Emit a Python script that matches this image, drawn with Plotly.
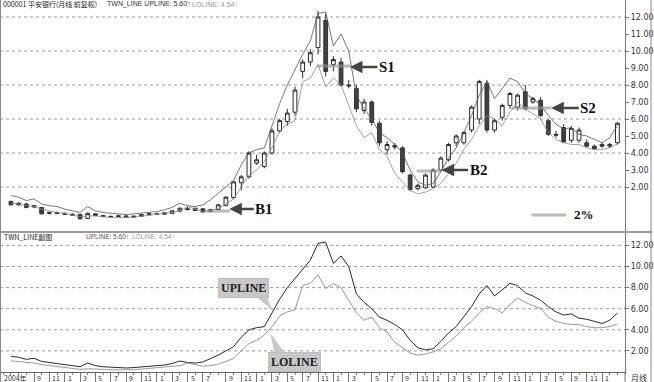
import plotly.graph_objects as go

W, H = 654, 382

# ---------------- data (monthly) ----------------
months = list(range(80))
opens = [1.15, 0.95, 1.0, 0.82, 0.8, 0.45, 0.5, 0.45, 0.4, 0.38,
         0.15, 0.42, 0.32, 0.26, 0.27, 0.3, 0.24, 0.28, 0.37, 0.42,
         0.4, 0.45, 0.58, 0.72, 0.62, 0.72, 0.55, 0.68, 0.92, 1.38,
         2.25, 2.6, 3.4, 3.2, 4.0, 5.3, 5.85, 6.4, 8.8, 9.35,
         10.2, 11.8, 9.2, 9.35, 8.0, 7.8, 6.5, 7.0, 5.75, 4.2,
         4.45, 4.3, 2.7, 1.9, 1.95, 2.0, 3.0, 3.6, 4.6, 4.6,
         5.35, 6.0, 8.1, 5.35, 6.1, 6.8, 6.7, 7.6, 7.0, 7.1,
         5.9, 5.1, 5.5, 4.75, 4.75, 4.6, 4.4, 4.5, 4.4, 4.6]
highs = [1.2, 1.1, 1.05, 0.95, 0.82, 0.55, 0.55, 0.5, 0.45, 0.42,
         0.5, 0.45, 0.35, 0.3, 0.32, 0.32, 0.3, 0.4, 0.45, 0.48,
         0.5, 0.62, 0.8, 0.85, 0.78, 0.75, 0.72, 0.98, 1.45, 2.35,
         2.7, 4.1, 3.9, 4.1, 5.45, 6.0, 6.6, 7.9, 9.5, 10.1,
         12.35, 12.2, 9.7, 9.6, 8.3, 8.0, 7.2, 7.1, 5.9, 4.7,
         4.6, 4.4, 2.8, 2.2, 2.8, 3.1, 3.8, 4.6, 5.1, 5.3,
         6.8, 8.3, 8.3, 6.0, 6.9, 7.6, 7.5, 8.0, 7.3, 7.3,
         6.0, 5.3, 5.7, 5.6, 5.5, 4.8, 4.5, 4.6, 4.6, 5.8]
lows = [0.92, 0.9, 0.75, 0.78, 0.38, 0.38, 0.4, 0.35, 0.3, 0.1,
        0.12, 0.28, 0.24, 0.2, 0.22, 0.22, 0.2, 0.26, 0.33, 0.36,
        0.38, 0.42, 0.52, 0.62, 0.58, 0.5, 0.52, 0.64, 0.85, 1.3,
        1.8, 2.5, 3.3, 3.1, 3.9, 5.2, 5.6, 6.2, 8.4, 9.1,
        9.8, 8.5, 8.8, 7.9, 7.8, 6.4, 6.3, 5.6, 4.4, 3.9,
        4.2, 2.8, 1.75, 1.8, 1.9, 1.95, 2.9, 3.5, 4.4, 4.5,
        5.2, 5.7, 5.2, 5.2, 5.9, 6.6, 6.5, 6.5, 6.9, 6.1,
        5.0, 4.9, 4.6, 4.6, 4.6, 4.35, 4.2, 4.3, 4.3, 4.5]
closes = [0.95, 1.05, 0.8, 0.9, 0.42, 0.5, 0.45, 0.4, 0.35, 0.13,
          0.45, 0.32, 0.26, 0.27, 0.3, 0.24, 0.28, 0.37, 0.42, 0.4,
          0.48, 0.6, 0.75, 0.68, 0.75, 0.53, 0.68, 0.95, 1.4, 2.3,
          2.6, 4.0, 3.6, 4.0, 5.3, 5.9, 6.35, 7.7, 9.35, 9.9,
          12.0, 8.8, 9.5, 8.0, 7.95, 6.6, 7.0, 5.8, 4.6, 4.5,
          4.35, 2.9, 1.85, 2.1, 2.7, 3.0, 3.7, 4.5, 5.0, 5.2,
          6.7, 8.2, 5.35, 5.9, 6.8, 7.5, 7.4, 6.6, 7.2, 6.2,
          5.1, 5.05, 4.65, 5.45, 5.35, 4.4, 4.25, 4.4, 4.5, 5.75]
upline = [1.5, 1.4, 1.2, 1.3, 1.0, 0.9, 0.85, 0.7, 0.6, 0.5,
          0.85, 0.6, 0.5, 0.45, 0.4, 0.38, 0.42, 0.47, 0.5, 0.55,
          0.66, 0.8, 1.04, 0.9, 0.85, 0.95, 1.25, 1.6, 2.0, 2.4,
          3.3, 4.0, 4.2, 4.3, 5.6, 6.9, 8.0, 8.9, 9.8, 10.6,
          12.2, 12.3, 10.3, 11.0, 10.0, 7.4, 6.6, 6.0, 5.2, 4.9,
          4.5, 4.0, 3.0, 2.3, 2.1, 2.2, 2.9, 3.7, 4.3, 5.2,
          6.2, 7.4, 8.2, 7.2, 7.8, 8.4, 8.2, 7.5, 7.2, 6.8,
          6.2, 5.7, 5.4, 5.5, 5.1, 5.0, 4.8, 4.6, 4.9, 5.6]
loline = [1.05, 1.0, 0.9, 0.85, 0.7, 0.6, 0.5, 0.45, 0.35, 0.25,
          0.3, 0.3, 0.25, 0.2, 0.2, 0.2, 0.22, 0.28, 0.35, 0.4,
          0.45, 0.5, 0.6, 0.85, 0.7, 0.55, 0.6, 0.75, 1.0, 1.3,
          2.0, 2.7, 3.0, 3.5, 4.3, 5.3, 5.7, 5.9, 8.2, 8.4,
          9.2, 7.9, 8.4, 8.0, 6.8, 5.6, 4.9, 5.2, 4.2, 3.8,
          2.8, 2.3, 1.8, 1.6, 1.7, 1.9, 2.2, 2.8, 3.4, 4.2,
          4.8, 5.6, 6.2, 6.0, 5.6, 6.4, 7.0, 6.6, 6.3, 6.0,
          5.2, 4.8, 4.6, 4.5, 4.5, 4.3, 4.2, 4.2, 4.3, 4.54]
tick_pos = [0, 3, 5, 7, 9, 11, 13, 15, 17, 19, 21, 23, 25, 28, 30, 32, 34, 36, 38,
            40, 42, 44, 47, 49, 51, 53, 55, 57, 59, 61, 63, 65, 67, 69, 71, 73, 75, 77]
tick_txt = ["2004年", "9", "11", "1", "3", "5", "7", "9", "11", "1", "3", "5", "7", "9", "11",
            "1", "3", "5", "7", "11", "1", "3", "5", "7", "9", "11", "1", "3", "5", "7",
            "9", "11", "1", "3", "5", "9", "11", "1"]
price_ticks = [2, 3, 4, 5, 6, 7, 8, 9, 10, 11, 12]
sub_ticks = [2, 4, 6, 8, 10, 12]
grid_vals = [2, 4, 6, 8, 10, 12]

# ---------------- geometry helpers (pixel -> paper) ----------------
def fx(x):
    return x / W

def fy(y):
    return 1 - y / H

PLOT_R = 627
X0, DX = 11, 7.7
TOP_Y0, TOP_Y1 = 0, 231        # pixel rows of top panel
TOP_ZERO, TOP_K = 221, 17.0    # y = 221 - 17 v
BOT_Y0, BOT_Y1 = 233, 372
BOT_ZERO, BOT_K = 372, 10.55

xrange_ = [(0 - X0) / DX, (PLOT_R - X0) / DX]

fig = go.Figure()
fig.add_trace(go.Candlestick(
    x=months, open=opens, high=highs, low=lows, close=closes,
    xaxis="x", yaxis="y", whiskerwidth=0,
    increasing=dict(line=dict(color="#2a2a2a", width=1), fillcolor="#ffffff"),
    decreasing=dict(line=dict(color="#333333", width=1), fillcolor="#404040"),
    showlegend=False, hoverinfo="skip"))
fig.add_trace(go.Scatter(x=months, y=upline, mode="lines", xaxis="x", yaxis="y",
                         line=dict(color="#555555", width=0.8), showlegend=False, hoverinfo="skip"))
fig.add_trace(go.Scatter(x=months, y=loline, mode="lines", xaxis="x", yaxis="y",
                         line=dict(color="#8a8a8a", width=0.8), showlegend=False, hoverinfo="skip"))
fig.add_trace(go.Scatter(x=months, y=upline, mode="lines", xaxis="x2", yaxis="y2",
                         line=dict(color="#2a2a2a", width=1), showlegend=False, hoverinfo="skip"))
fig.add_trace(go.Scatter(x=months, y=loline, mode="lines", xaxis="x2", yaxis="y2",
                         line=dict(color="#9a9a9a", width=1), showlegend=False, hoverinfo="skip"))

tickfont = dict(family="DejaVu Sans", size=8, color="#333333")
fig.update_layout(
    width=W, height=H, margin=dict(l=0, r=0, t=0, b=0),
    paper_bgcolor="white", plot_bgcolor="white", showlegend=False,
    xaxis=dict(domain=[0, fx(PLOT_R)], range=xrange_, anchor="y",
               showticklabels=False, showgrid=False, zeroline=False, ticks="",
               rangeslider=dict(visible=False)),
    xaxis2=dict(domain=[0, fx(PLOT_R)], range=xrange_, anchor="y2", matches="x",
                showticklabels=False, showgrid=False, zeroline=False,
                tickmode="array", tickvals=tick_pos[1:], ticks="outside", ticklen=10,
                tickcolor="#777777", tickwidth=1,
                minor=dict(ticks="outside", ticklen=2, dtick=1, tickcolor="#888888"),
                showline=True, linecolor="#666666", linewidth=1),
    yaxis=dict(domain=[fy(TOP_Y1), fy(TOP_Y0)],
               range=[(TOP_ZERO - TOP_Y1) / TOP_K, (TOP_ZERO - TOP_Y0) / TOP_K],
               side="right", anchor="x", tickmode="array", tickvals=price_ticks,
               ticktext=[f"{v:.2f}" for v in price_ticks], tickfont=tickfont,
               ticks="outside", ticklen=3, tickcolor="#777777",
               showgrid=False, zeroline=False, showline=True, linecolor="#777777"),
    yaxis2=dict(domain=[fy(BOT_Y1), fy(BOT_Y0)],
                range=[0, (BOT_ZERO - BOT_Y0) / BOT_K],
                side="right", anchor="x2", tickmode="array", tickvals=sub_ticks,
                ticktext=[f"{v:.2f}" for v in sub_ticks], tickfont=tickfont,
                ticks="outside", ticklen=3, tickcolor="#777777",
                showgrid=False, zeroline=False, showline=True, linecolor="#777777"),
)

shapes = []
for v in grid_vals:
    shapes.append(dict(type="line", xref="paper", yref="y", x0=0, x1=fx(PLOT_R), y0=v, y1=v,
                       line=dict(color="#9a9a9a", width=1, dash="dot"), layer="below"))
    shapes.append(dict(type="line", xref="paper", yref="y2", x0=0, x1=fx(PLOT_R), y0=v, y1=v,
                       line=dict(color="#9a9a9a", width=1, dash="dot"), layer="below"))
# frame lines
shapes.append(dict(type="line", xref="paper", yref="paper", x0=0, x1=1, y0=fy(232), y1=fy(232),
                   line=dict(color="#9a9a9a", width=2)))
shapes.append(dict(type="line", xref="paper", yref="paper", x0=fx(0.5), x1=fx(0.5), y0=0, y1=1,
                   line=dict(color="#888888", width=1)))
shapes.append(dict(type="line", xref="paper", yref="paper", x0=fx(653), x1=fx(653), y0=0, y1=1,
                   line=dict(color="#888888", width=1)))
shapes.append(dict(type="line", xref="paper", yref="paper", x0=fx(PLOT_R), x1=fx(PLOT_R),
                   y0=0, y1=fy(372), line=dict(color="#777777", width=1)))

# gray 2% bands behind the arrows
bands = [((318, 352), 66), ((513, 553), 108), ((418, 443), 171), ((205, 231), 211), ((533, 568), 215)]
for (xa, xb), yy in bands:
    shapes.append(dict(type="line", xref="paper", yref="paper", x0=fx(xa), x1=fx(xb),
                       y0=fy(yy), y1=fy(yy), line=dict(color="rgba(150,150,150,0.65)", width=3)))

# callout tails for UPLINE / LOLINE boxes
def tri(p):
    return "M " + " L ".join(f"{fx(a):.5f},{fy(b):.5f}" for a, b in p) + " Z"

shapes.append(dict(type="path", xref="paper", yref="paper",
                   path=tri([(254, 294), (266, 294), (274, 311)]),
                   fillcolor="#c8c8c8", line=dict(color="#c8c8c8", width=0)))
shapes.append(dict(type="path", xref="paper", yref="paper",
                   path=tri([(276, 356), (288, 356), (271, 333)]),
                   fillcolor="#c8c8c8", line=dict(color="#c8c8c8", width=0)))

ann = []
def label(x, y, text, font, xanchor="left"):
    ann.append(dict(x=fx(x), y=fy(y), xref="paper", yref="paper", xanchor=xanchor,
                    yanchor="middle", text=text, showarrow=False, font=font))

cjk7 = dict(family="Noto Sans CJK SC", size=7, color="#222222")
lat7 = dict(family="Liberation Sans", size=7, color="#333333")
gray7 = dict(family="Liberation Sans", size=7, color="#9a9a9a")
label(1, 4, "000001 平安银行(月线 前复权)", cjk7)
label(105, 4, "TWN_LINE UPLINE: 5.60↑", lat7)
label(191, 4, "LOLINE: 4.54↑", gray7)
label(2, 237, "TWN_LINE副图", cjk7)
label(84, 237, "UPLINE: 5.60↑", dict(family="Liberation Sans", size=6.5, color="#555555"))
label(130, 237, "LOLINE: 4.54↑", dict(family="Liberation Sans", size=6.5, color="#9a9a9a"))

bold = dict(family="Liberation Serif", size=15, color="#111111")
arrows = [("S1", 351, 67, 388, 67), ("S2", 553, 108, 590, 108),
          ("B2", 443, 170, 480, 170), ("B1", 230, 209, 265, 209)]
for t, xt, yt, xl, yl in arrows:
    ann.append(dict(x=fx(xt), y=fy(yt), xref="paper", yref="paper", text=f"<b>{t}</b>",
                    ax=xl - xt, ay=yl - yt, showarrow=True, arrowhead=2, arrowsize=1,
                    arrowwidth=2.5, arrowcolor="#444444", font=bold, standoff=0))
label(574, 215, "<b>2%</b>", dict(family="Liberation Serif", size=13, color="#111111"))
ann.append(dict(x=fx(244), y=fy(288), xref="paper", yref="paper", xanchor="center", yanchor="middle",
                text="<b>UPLINE</b>", showarrow=False,
                font=dict(family="Liberation Serif", size=12, color="#222222"),
                bgcolor="#c8c8c8", bordercolor="#bdbdbd", borderpad=2))
ann.append(dict(x=fx(295), y=fy(362), xref="paper", yref="paper", xanchor="center", yanchor="middle",
                text="<b>LOLINE</b>", showarrow=False,
                font=dict(family="Liberation Serif", size=12, color="#222222"),
                bgcolor="#c8c8c8", bordercolor="#bdbdbd", borderpad=2))

axfont = dict(family="Noto Sans CJK SC", size=7, color="#333333")
for k, (p, t) in enumerate(zip(tick_pos, tick_txt)):
    if k == 0:
        label(2, 377.5, t, axfont)
    else:
        ann.append(dict(x=p, y=fy(377.5), xref="x2", yref="paper", xanchor="left", yanchor="middle",
                        xshift=1, text=t, showarrow=False, font=axfont))
label(641, 377.5, "月线", dict(family="Noto Sans CJK SC", size=8, color="#333333"), xanchor="center")

fig.update_layout(shapes=shapes, annotations=ann)
fig.write_html("out.html")
